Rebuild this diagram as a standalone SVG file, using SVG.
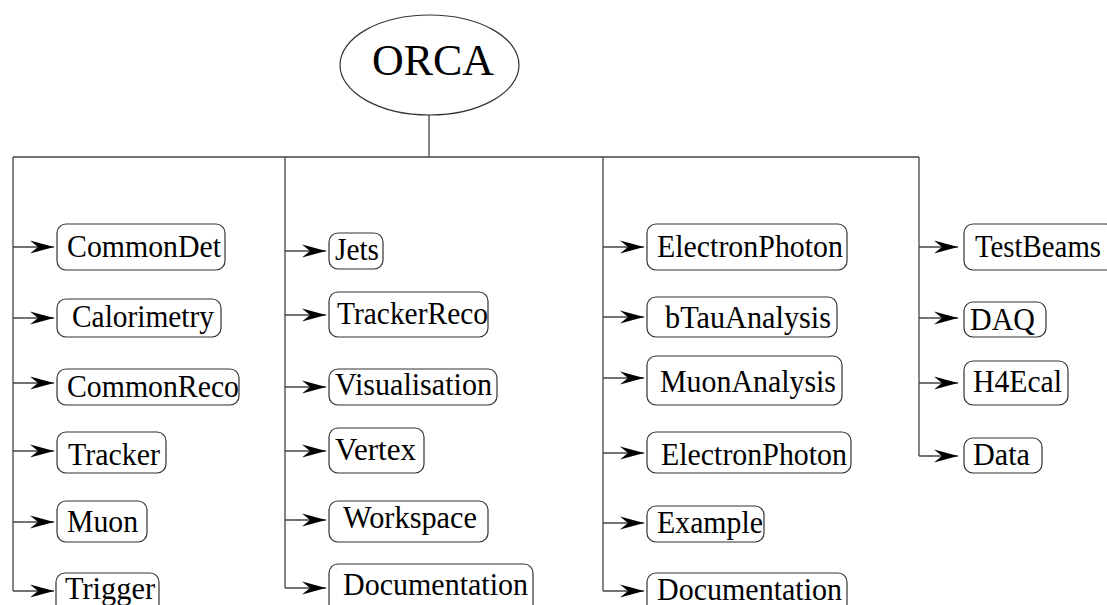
<svg xmlns="http://www.w3.org/2000/svg" width="1107" height="605" viewBox="0 0 1107 605">
<style>
.box{fill:#fff;stroke:#333;stroke-width:1.2}
.lbl{font-family:"Liberation Serif","Times New Roman",serif;font-size:32px;fill:#000}
.ln{stroke:#444;stroke-width:1.3;fill:none}
.ar{stroke:#444;stroke-width:1.3;fill:none;marker-end:url(#ah)}
</style>
<defs>
<marker id="ah" viewBox="0 0 24 14" refX="24" refY="7" markerWidth="24" markerHeight="14" markerUnits="userSpaceOnUse" orient="auto">
<path d="M0,0.5 L24,7 L0,13.5 L8,7 Z" fill="#000"/>
</marker>
</defs>
<rect width="1107" height="605" fill="#fff"/>
<g id="connectors">
<path class="ln" d="M429,115 V157 M13,157 H919"/>
<path class="ln" d="M13,157 V591 M285,157 V588 M603,157 V591 M919,157 V456"/>
<path class="ar" d="M13,247 H54"/>
<path class="ar" d="M13,318 H54"/>
<path class="ar" d="M13,383 H54"/>
<path class="ar" d="M13,451 H54"/>
<path class="ar" d="M13,522 H54"/>
<path class="ar" d="M13,591 H54"/>
<path class="ar" d="M285,251 H326"/>
<path class="ar" d="M285,315 H326"/>
<path class="ar" d="M285,387 H326"/>
<path class="ar" d="M285,451 H326"/>
<path class="ar" d="M285,520 H326"/>
<path class="ar" d="M285,588 H326"/>
<path class="ar" d="M603,247 H644"/>
<path class="ar" d="M603,317 H644"/>
<path class="ar" d="M603,378 H644"/>
<path class="ar" d="M603,453 H644"/>
<path class="ar" d="M603,523 H644"/>
<path class="ar" d="M603,591 H644"/>
<path class="ar" d="M919,247 H958"/>
<path class="ar" d="M919,318 H958"/>
<path class="ar" d="M919,383 H958"/>
<path class="ar" d="M919,456 H958"/>
</g>
<g id="orca"><ellipse cx="429.5" cy="65" rx="89.5" ry="50" fill="#fff" stroke="#333" stroke-width="1.2"/><text x="433" y="75" text-anchor="middle" font-family="'Liberation Serif','Times New Roman',serif" font-size="45" textLength="122" lengthAdjust="spacingAndGlyphs">ORCA</text></g>
<g id="commondet"><rect class="box" x="57" y="224" width="168" height="46" rx="9"/><text class="lbl" x="67" y="257" textLength="154" lengthAdjust="spacingAndGlyphs">CommonDet</text></g>
<g id="calorimetry"><rect class="box" x="57" y="299" width="164" height="38" rx="9"/><text class="lbl" x="72" y="327" textLength="142" lengthAdjust="spacingAndGlyphs">Calorimetry</text></g>
<g id="commonreco"><rect class="box" x="57" y="369" width="182" height="36" rx="9"/><text class="lbl" x="67" y="397" textLength="172" lengthAdjust="spacingAndGlyphs">CommonReco</text></g>
<g id="tracker"><rect class="box" x="57" y="432" width="109" height="41" rx="9"/><text class="lbl" x="68" y="465" textLength="92" lengthAdjust="spacingAndGlyphs">Tracker</text></g>
<g id="muon"><rect class="box" x="57" y="501" width="90" height="41" rx="9"/><text class="lbl" x="67" y="532" textLength="71" lengthAdjust="spacingAndGlyphs">Muon</text></g>
<g id="trigger"><rect class="box" x="56" y="573" width="103" height="45" rx="9"/><text class="lbl" x="65" y="599" textLength="90" lengthAdjust="spacingAndGlyphs">Trigger</text></g>
<g id="jets"><rect class="box" x="329" y="233" width="54" height="36" rx="9"/><text class="lbl" x="335" y="260" textLength="44" lengthAdjust="spacingAndGlyphs">Jets</text></g>
<g id="trackerreco"><rect class="box" x="329" y="292" width="159" height="45" rx="9"/><text class="lbl" x="337" y="324" textLength="151" lengthAdjust="spacingAndGlyphs">TrackerReco</text></g>
<g id="visualisation"><rect class="box" x="329" y="369" width="168" height="36" rx="9"/><text class="lbl" x="335" y="395" textLength="157" lengthAdjust="spacingAndGlyphs">Visualisation</text></g>
<g id="vertex"><rect class="box" x="329" y="428" width="95" height="45" rx="9"/><text class="lbl" x="335" y="460" textLength="81" lengthAdjust="spacingAndGlyphs">Vertex</text></g>
<g id="workspace"><rect class="box" x="329" y="501" width="159" height="41" rx="9"/><text class="lbl" x="343" y="528" textLength="134" lengthAdjust="spacingAndGlyphs">Workspace</text></g>
<g id="documentation1"><rect class="box" x="329" y="564" width="204" height="50" rx="9"/><text class="lbl" x="343" y="595" textLength="185" lengthAdjust="spacingAndGlyphs">Documentation</text></g>
<g id="electronphoton1"><rect class="box" x="647" y="224" width="200" height="46" rx="9"/><text class="lbl" x="657" y="257" textLength="186" lengthAdjust="spacingAndGlyphs">ElectronPhoton</text></g>
<g id="btauanalysis"><rect class="box" x="647" y="297" width="190" height="40" rx="9"/><text class="lbl" x="665" y="328" textLength="166" lengthAdjust="spacingAndGlyphs">bTauAnalysis</text></g>
<g id="muonanalysis"><rect class="box" x="647" y="356" width="195" height="49" rx="9"/><text class="lbl" x="660" y="392" textLength="176" lengthAdjust="spacingAndGlyphs">MuonAnalysis</text></g>
<g id="electronphoton2"><rect class="box" x="647" y="432" width="204" height="41" rx="9"/><text class="lbl" x="661" y="465" textLength="186" lengthAdjust="spacingAndGlyphs">ElectronPhoton</text></g>
<g id="example"><rect class="box" x="647" y="506" width="117" height="36" rx="9"/><text class="lbl" x="657" y="533" textLength="106" lengthAdjust="spacingAndGlyphs">Example</text></g>
<g id="documentation2"><rect class="box" x="647" y="573" width="200" height="45" rx="9"/><text class="lbl" x="657" y="600" textLength="185" lengthAdjust="spacingAndGlyphs">Documentation</text></g>
<g id="testbeams"><rect class="box" x="964" y="224" width="151" height="46" rx="9"/><text class="lbl" x="975" y="257" textLength="126" lengthAdjust="spacingAndGlyphs">TestBeams</text></g>
<g id="daq"><rect class="box" x="964" y="302" width="82" height="35" rx="9"/><text class="lbl" x="970" y="330" textLength="65" lengthAdjust="spacingAndGlyphs">DAQ</text></g>
<g id="h4ecal"><rect class="box" x="964" y="361" width="104" height="44" rx="9"/><text class="lbl" x="973" y="392" textLength="89" lengthAdjust="spacingAndGlyphs">H4Ecal</text></g>
<g id="data"><rect class="box" x="964" y="438" width="78" height="35" rx="9"/><text class="lbl" x="973" y="465" textLength="57" lengthAdjust="spacingAndGlyphs">Data</text></g>
</svg>
